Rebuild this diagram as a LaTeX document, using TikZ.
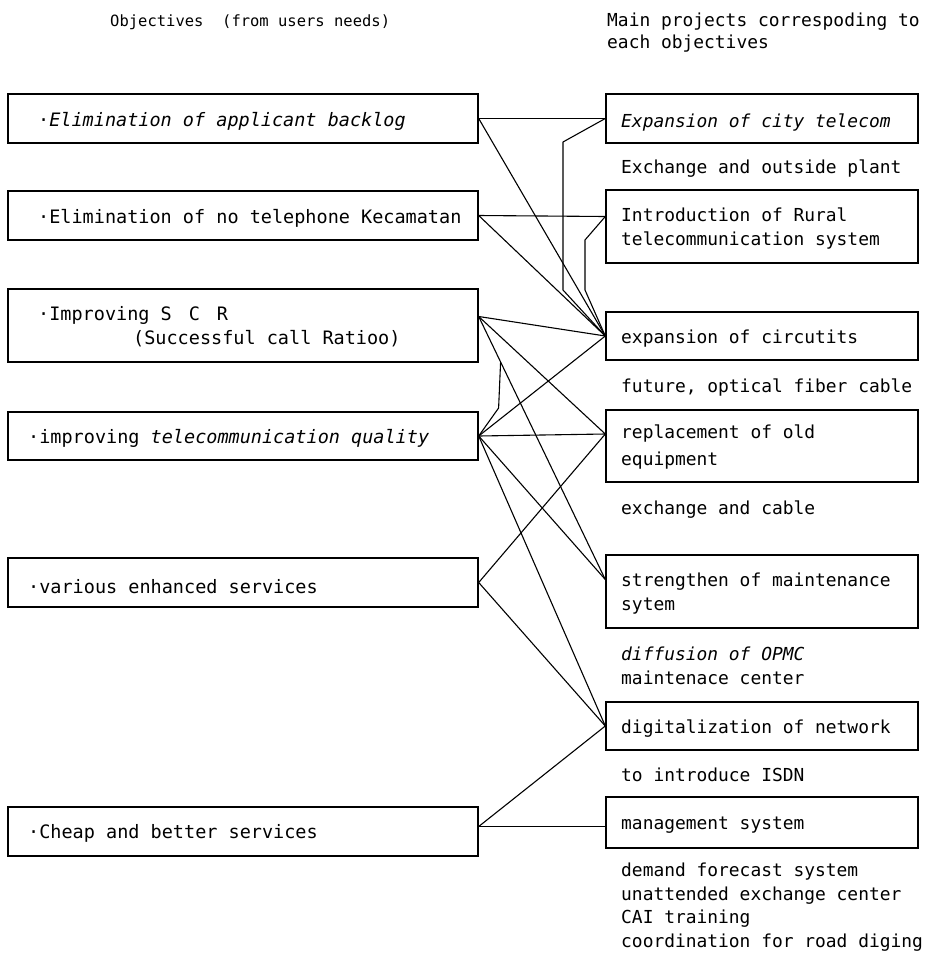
\documentclass[tikz,border=0pt]{standalone}
\usepackage{fontspec}
\setmainfont{DejaVu Sans Mono}
\usetikzlibrary{calc}
\begin{document}
\begin{tikzpicture}[x=1pt,y=-1pt,
  lbox/.style={draw,line width=1.4pt,minimum width=470pt,inner sep=0pt},
  rbox/.style={draw,line width=1.4pt,minimum width=312pt,inner sep=0pt},
  ltxt/.style={anchor=base west,inner sep=0pt,font=\fontsize{18.5}{22}\selectfont},
  rtxt/.style={anchor=base west,inner sep=0pt,font=\fontsize{17.9}{22}\selectfont},
  link/.style={line width=1.1pt,line join=round}]
\useasboundingbox (0,0) rectangle (928,956);

% headers
\node[ltxt,font=\fontsize{15.5}{22}\selectfont] (hL) at (110,26) {Objectives\ \ (from users needs)};
\node[rtxt] (hR1) at (607,26) {Main projects correspoding to};
\node[rtxt] (hR2) at (607,48) {each objectives};

% left boxes
\node[lbox,minimum height=49pt] (L1) at (243,118.5) {};
\node[lbox,minimum height=49pt] (L2) at (243,215.5) {};
\node[lbox,minimum height=73pt] (L3) at (243,325.5) {};
\node[lbox,minimum height=48pt] (L4) at (243,436) {};
\node[lbox,minimum height=49pt] (L5) at (243,582.5) {};
\node[lbox,minimum height=49pt] (L6) at (243,831.5) {};

\node[ltxt] (tL1) at (38,126) {·\textit{Elimination of applicant backlog}};
\node[ltxt] (tL2) at (38,223) {·Elimination of no telephone Kecamatan};
\node[ltxt] (tL3a) at (38,320) {·Improving S\hspace{17pt}C\hspace{17pt}R};
\node[ltxt] (tL3b) at (133,344) {(Successful call Ratioo)};
\node[ltxt] (tL4) at (28,443) {·improving \textit{telecommunication quality}};
\node[ltxt] (tL5) at (28,593) {·various enhanced services};
\node[ltxt] (tL6) at (28,838) {·Cheap and better services};

% right boxes
\node[rbox,minimum height=49pt] (R1) at (762,118.5) {};
\node[rbox,minimum height=73pt] (R2) at (762,226.5) {};
\node[rbox,minimum height=48pt] (R3) at (762,336) {};
\node[rbox,minimum height=72pt] (R4) at (762,446) {};
\node[rbox,minimum height=73pt] (R5) at (762,591.5) {};
\node[rbox,minimum height=48pt] (R6) at (762,726) {};
\node[rbox,minimum height=51pt] (R7) at (762,822.5) {};

\node[rtxt] (tR1) at (621,127) {\textit{Expansion of city telecom}};
\node[rtxt] (sR1) at (621,173) {Exchange and outside plant};
\node[rtxt] (tR2a) at (621,221) {Introduction of Rural};
\node[rtxt] (tR2b) at (621,245) {telecommunication system};
\node[rtxt] (tR3) at (621,343) {expansion of circutits};
\node[rtxt] (sR3) at (621,392) {future, optical fiber cable};
\node[rtxt] (tR4a) at (621,438) {replacement of old};
\node[rtxt] (tR4b) at (621,465) {equipment};
\node[rtxt] (sR4) at (621,514) {exchange and cable};
\node[rtxt] (tR5a) at (621,586) {strengthen of maintenance};
\node[rtxt] (tR5b) at (621,610) {sytem};
\node[rtxt] (sR5a) at (621,660) {\textit{diffusion of OPMC}};
\node[rtxt] (sR5b) at (621,684) {maintenace center};
\node[rtxt] (tR6) at (621,733) {digitalization of network};
\node[rtxt] (sR6) at (621,781) {to introduce ISDN};
\node[rtxt] (tR7) at (621,829) {management system};
\node[rtxt] (sR7a) at (621,876) {demand forecast system};
\node[rtxt] (sR7b) at (621,900) {unattended exchange center};
\node[rtxt] (sR7c) at (621,923) {CAI training};
\node[rtxt] (sR7d) at (621,947) {coordination for road diging};

% anchor points
\coordinate (a1) at (L1.east);
\coordinate (a2) at (L2.east);
\coordinate (a3) at ($(L3.east)+(0,-9)$);
\coordinate (a4) at (L4.east);
\coordinate (a5) at (L5.east);
\coordinate (a6) at ($(L6.east)+(0,-5)$);
\coordinate (b1) at (R1.west);
\coordinate (b2) at ($(R2.west)+(0,-10)$);
\coordinate (b3) at (R3.west);
\coordinate (b4) at ($(R4.west)+(0,-12)$);
\coordinate (b5) at ($(R5.west)+(0,-12)$);
\coordinate (b6) at (R6.west);
\coordinate (b7) at ($(R7.west)+(0,4)$);

% direct links
\draw[link] (a1) -- (b1);
\draw[link] (a1) -- (b3);
\draw[link] (a2) -- (b2);
\draw[link] (a2) -- (b3);
\draw[link] (a3) -- (b3);
\draw[link] (a3) -- (b4);
\draw[link] (a3) -- (b5);
\draw[link] (a4) -- (b3);
\draw[link] (a4) -- (b4);
\draw[link] (a4) -- (b5);
\draw[link] (a4) -- (b6);
\draw[link] (a5) -- (b4);
\draw[link] (a5) -- (b6);
\draw[link] (a6) -- (b6);
\draw[link] (a6) -- (b7);

% bent links
\coordinate (k1) at (563,142);
\coordinate (k2) at (563,290);
\draw[link] (b1) -- (k1) -- (k2) -- (b3);
\coordinate (m1) at (585,240);
\coordinate (m2) at (585,290);
\draw[link] (b2) -- (m1) -- (m2) -- (b3);
\coordinate (j1) at ($(a3)!0.173!(b5)$);
\path (j1) ++(-2,46) coordinate (j2);
\draw[link] (a4) -- (j2) -- (j1);
\end{tikzpicture}
\end{document}
